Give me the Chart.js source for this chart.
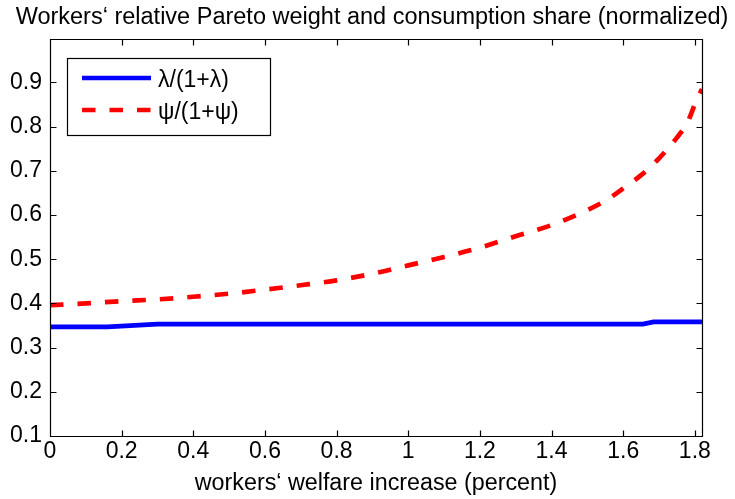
<!DOCTYPE html>
<html><head><meta charset="utf-8">
<script src="https://cdn.jsdelivr.net/npm/chart.js@4/dist/chart.umd.min.js"></script>
<style>html,body{margin:0;padding:0;background:#fff;}#wrap{width:735px;height:499px;}</style>
</head><body><div id="wrap"><canvas id="c" width="735" height="499"></canvas></div>
<script>
const titleText = 'Workers\u2018 relative Pareto weight and consumption share (normalized)';
const xLabel = 'workers\u2018 welfare increase (percent)';
const seriesNames = ['\u03bb/(1+\u03bb)', '\u03c8/(1+\u03c8)'];
const lambdaX = [0, 0.16, 0.30, 1.655, 1.685, 1.82];
const lambdaY = [0.347, 0.347, 0.353, 0.353, 0.358, 0.358];
const psiX = [0, 0.1, 0.2, 0.3, 0.4, 0.5, 0.6, 0.7, 0.8, 0.9, 1.0, 1.1, 1.2, 1.3, 1.4, 1.47, 1.55, 1.6, 1.65, 1.7, 1.75, 1.78, 1.8, 1.82];
const psiY = [0.396, 0.400, 0.405, 0.409, 0.415, 0.422, 0.431, 0.441, 0.452, 0.467, 0.486, 0.505, 0.526, 0.552, 0.577, 0.600, 0.632, 0.660, 0.690, 0.728, 0.775, 0.810, 0.850, 0.885];
const xTicks = [0, 0.2, 0.4, 0.6, 0.8, 1.0, 1.2, 1.4, 1.6, 1.8];
const xTickLabels = ['0', '0.2', '0.4', '0.6', '0.8', '1', '1.2', '1.4', '1.6', '1.8'];
const yTicks = [0.1, 0.2, 0.3, 0.4, 0.5, 0.6, 0.7, 0.8, 0.9];
const yTickLabels = ['0.1', '0.2', '0.3', '0.4', '0.5', '0.6', '0.7', '0.8', '0.9'];

const FONT = 'Liberation Sans, Arial, Helvetica, sans-serif';
const colors = ['#0000ff', '#ff0000'];
const dashes = [[], [13.5, 14]];

function pts(xs, ys) { return xs.map((x, i) => ({x: x, y: ys[i]})); }

const framePlugin = {
  id: 'frame',
  afterDraw(chart) {
    const ctx = chart.ctx, a = chart.chartArea;
    const xs = chart.scales.x, ys = chart.scales.y;
    const L = Math.round(a.left) + 0.5, R = Math.round(a.right) + 0.5;
    const T = Math.round(a.top) + 0.5, B = Math.round(a.bottom) + 0.5;
    ctx.save();
    ctx.strokeStyle = '#000';
    ctx.lineWidth = 1.2;
    ctx.setLineDash([]);
    ctx.beginPath();
    ctx.rect(L, T, R - L, B - T);
    const tl = 6;
    xTicks.forEach(v => {
      const px = Math.round(xs.getPixelForValue(v)) + 0.5;
      ctx.moveTo(px, B); ctx.lineTo(px, B - tl);
      ctx.moveTo(px, T); ctx.lineTo(px, T + tl);
    });
    yTicks.forEach(v => {
      const py = Math.round(ys.getPixelForValue(v)) + 0.5;
      ctx.moveTo(L, py); ctx.lineTo(L + tl, py);
      ctx.moveTo(R, py); ctx.lineTo(R - tl, py);
    });
    ctx.stroke();
    // legend
    const bx = 67.5, by = 58.5, bw = 203, bh = 77;
    ctx.fillStyle = '#fff';
    ctx.fillRect(bx, by, bw, bh);
    ctx.strokeRect(bx, by, bw, bh);
    const rows = [78, 110];
    chart.data.datasets.forEach((ds, i) => {
      ctx.beginPath();
      ctx.strokeStyle = ds.borderColor;
      ctx.lineWidth = ds.borderWidth;
      ctx.lineCap = 'butt';
      ctx.setLineDash(ds.borderDash || []);
      ctx.moveTo(82, rows[i]); ctx.lineTo(151, rows[i]);
      ctx.stroke();
      ctx.setLineDash([]);
      ctx.fillStyle = '#000';
      ctx.font = '23px ' + FONT;
      ctx.textBaseline = 'middle';
      ctx.textAlign = 'left';
      ctx.fillText(ds.label, 158, rows[i] + 3);
    });
    ctx.restore();
  }
};

new Chart(document.getElementById('c'), {
  type: 'line',
  data: {
    datasets: [
      {label: seriesNames[0], data: pts(lambdaX, lambdaY), borderColor: colors[0], borderWidth: 4.7, borderDash: dashes[0], pointRadius: 0, tension: 0, fill: false, borderCapStyle: 'butt'},
      {label: seriesNames[1], data: pts(psiX, psiY), borderColor: colors[1], borderWidth: 4.7, borderDash: dashes[1], pointRadius: 0, cubicInterpolationMode: 'monotone', fill: false, borderCapStyle: 'butt'}
    ]
  },
  options: {
    responsive: false,
    animation: false,
    devicePixelRatio: 1,
    layout: {padding: {left: 9, right: 0, top: 0, bottom: 0}},
    plugins: {
      legend: {display: false},
      tooltip: {enabled: false},
      title: {display: true, text: titleText, color: '#000', font: {family: FONT, size: 23.5, weight: 'normal'}, padding: {top: 3, bottom: 7.8}}
    },
    scales: {
      x: {
        type: 'linear', min: 0, max: 1.82,
        grid: {display: false, drawTicks: false},
        border: {display: false},
        afterBuildTicks: s => { s.ticks = xTicks.map(v => ({value: v})); },
        afterFit: s => { s.height = 63; },
        ticks: {color: '#000', font: {family: FONT, size: 23}, padding: 2, autoSkip: false, maxRotation: 0,
          callback: (v, i) => xTickLabels[i]},
        title: {display: true, text: xLabel, color: '#000', font: {family: FONT, size: 23.3}, padding: {top: 0, bottom: 1}}
      },
      y: {
        type: 'linear', min: 0.1, max: 0.998,
        grid: {display: false, drawTicks: false},
        border: {display: false},
        afterBuildTicks: s => { s.ticks = yTicks.map(v => ({value: v})); },
        afterFit: s => { s.width = 41; },
        ticks: {color: '#000', font: {family: FONT, size: 23}, padding: 8, autoSkip: false,
          callback: (v, i) => yTickLabels[i]}
      },
      y2: {
        type: 'linear', position: 'right', display: true,
        grid: {display: false, drawTicks: false},
        border: {display: false},
        ticks: {display: false},
        afterFit: s => { s.width = 33; }
      }
    }
  },
  plugins: [framePlugin]
});
</script>
</body></html>
